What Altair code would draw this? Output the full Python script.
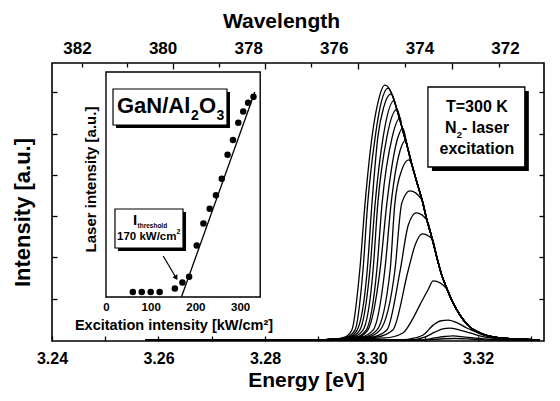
import altair as alt
import pandas as pd

FONT = "Liberation Sans"

# ---------------- photoluminescence spectra (energy in eV, intensity in a.u.) ----------------
# high-energy edge shared by the stronger spectra
edge_e = [3.3025, 3.3031, 3.3039, 3.3048, 3.3057, 3.3067, 3.3076, 3.3085, 3.3095, 3.3104,
          3.3114, 3.3123, 3.3132, 3.3142, 3.3153, 3.3166, 3.3185, 3.3204, 3.3232, 3.3270, 3.3316]
edge_i = [6.17, 6.13, 5.93, 5.57, 5.16, 4.70, 4.24, 3.83, 3.39, 2.91,
          2.45, 1.99, 1.57, 1.23, 0.90, 0.61, 0.31, 0.17, 0.07, 0.024, 0.0]

# flat low-energy tail common to every spectrum
tail_e = [3.2575, 3.2900, 3.2930]
tail_i = [0.0, 0.0, 0.02]

# low-energy side of each strong spectrum up to its maximum (strongest first)
rise_e = [
    [3.2950, 3.2963, 3.2978, 3.2988, 3.3001, 3.3012, 3.3025],
    [3.2954, 3.2969, 3.2984, 3.2993, 3.3007, 3.3018, 3.3031],
    [3.2958, 3.2973, 3.2992, 3.3001, 3.3012, 3.3023, 3.3037],
    [3.2961, 3.2978, 3.2997, 3.3007, 3.3022, 3.3042],
    [3.2965, 3.2984, 3.3003, 3.3012, 3.3029, 3.3048],
    [3.2971, 3.2990, 3.3010, 3.3020, 3.3039, 3.3054],
    [3.2975, 3.2993, 3.3016, 3.3029, 3.3050, 3.3059],
    [3.2980, 3.3003, 3.3025, 3.3037, 3.3054, 3.3065],
    [3.2986, 3.3010, 3.3035, 3.3044, 3.3057, 3.3070],
    [3.2992, 3.3016, 3.3044, 3.3057, 3.3072],
    [3.3001, 3.3029, 3.3054, 3.3069, 3.3084],
    [3.3010, 3.3040, 3.3069, 3.3082, 3.3095],
    [3.3025, 3.3059, 3.3076, 3.3091, 3.3106, 3.3116],
]
rise_i = [
    [0.07, 0.24, 1.69, 3.32, 4.92, 5.74, 6.17],
    [0.07, 0.24, 1.69, 3.32, 4.92, 5.74, 6.10],
    [0.07, 0.24, 1.69, 3.32, 4.92, 5.64, 5.96],
    [0.07, 0.24, 1.69, 3.32, 4.92, 5.79],
    [0.07, 0.24, 1.69, 3.32, 4.92, 5.59],
    [0.07, 0.24, 1.69, 3.32, 4.92, 5.38],
    [0.07, 0.24, 1.69, 3.32, 4.92, 5.13],
    [0.07, 0.24, 1.69, 3.32, 4.60, 4.84],
    [0.07, 0.24, 1.69, 3.32, 4.12, 4.36],
    [0.07, 0.24, 1.69, 3.32, 3.61],
    [0.07, 0.24, 1.69, 2.78, 3.08],
    [0.07, 0.24, 1.69, 2.30, 2.57],
    [0.05, 0.17, 0.48, 0.85, 1.21, 1.43],
]

# weak spectra below threshold
weak_e = [
    [3.3054, 3.3082, 3.3097, 3.3116, 3.3129, 3.3144, 3.3162, 3.3179, 3.3200, 3.3223, 3.3260],
    [3.3072, 3.3100, 3.3119, 3.3134, 3.3147, 3.3166, 3.3185, 3.3213, 3.3260],
    [3.3091, 3.3119, 3.3138, 3.3153, 3.3176, 3.3204, 3.3251],
    [3.3100, 3.3129, 3.3157, 3.3185, 3.3223],
]
weak_i = [
    [0.0, 0.05, 0.12, 0.36, 0.46, 0.48, 0.41, 0.29, 0.17, 0.07, 0.024],
    [0.0, 0.07, 0.19, 0.27, 0.29, 0.24, 0.17, 0.07, 0.012],
    [0.0, 0.05, 0.085, 0.10, 0.07, 0.036, 0.0],
    [0.0, 0.024, 0.036, 0.024, 0.0],
]

# ---------------- inset: laser intensity vs excitation ----------------
exc = [60, 80, 100, 120, 154, 171, 186, 203, 218, 232, 246, 259, 272, 284, 296, 307, 318, 330]
laser = [0, 0, 0, 0, 0.09, 0.24, 0.38, 1.16, 1.71, 2.08, 2.42, 2.83, 3.43, 3.80, 4.23, 4.51, 4.73, 4.88]
fit_exc = [169, 333]
fit_laser = [-0.12, 5.0]

# ---------------- axis ticks ----------------
energy_ticks = [round(3.24 + 0.01 * k, 2) for k in range(10)]
wavelength_labels = [382, 380, 378, 376, 374, 372]
wavelength_minor = [382, 381, 379, 377, 375, 373]
wavelength_major = [380, 378, 376, 374]
energy_at_minor = [1239.84 / wl for wl in wavelength_minor]
energy_at_major = [1239.84 / wl for wl in wavelength_major]
intensity_ticks = [1, 2, 3, 4, 5, 6]
inset_x_ticks = [0, 50, 100, 150, 200, 250, 300]
inset_y_ticks = [0, 1, 2, 3, 4, 5]

# ---------------- layout ----------------
W, H = 492, 278
E_DOM = [3.24, 3.3324]
I_DOM = [-0.024, 6.707]
WL_DOM = [371.089, 382.584]
XI_DOM = [0, 345]
YI_DOM = [-0.125, 5.5]
XI_RANGE = [54, 208.2]
YI_RANGE = [234, 9]


def lin(domain, rng=None, reverse=False):
    kw = dict(domain=domain, nice=False, zero=False)
    if rng is not None:
        kw["range"] = rng
    if reverse:
        kw["reverse"] = True
    return alt.Scale(**kw)


AX = dict(domain=False, grid=False, tickColor="black", tickWidth=1.3,
          labelFont=FONT, labelFontWeight="bold", labelColor="black",
          titleFont=FONT, titleFontWeight="bold", titleColor="black")

# assemble spectra table
rows = []
for k, (re_, ri_) in enumerate(zip(rise_e, rise_i)):
    es = tail_e + re_
    is_ = tail_i + ri_
    for e, i in zip(edge_e, edge_i):
        if e > re_[-1] and i < ri_[-1]:
            es.append(e)
            is_.append(i)
    rows += [{"curve": f"s{k}", "E": e, "I": i} for e, i in zip(es, is_)]
for k, (we, wi) in enumerate(zip(weak_e, weak_i)):
    es = [tail_e[0]] + we + [edge_e[-1]]
    is_ = [0.0] + wi + [0.0]
    rows += [{"curve": f"w{k}", "E": e, "I": i} for e, i in zip(es, is_)]
spec_df = pd.DataFrame(rows)

spectra = alt.Chart(spec_df).mark_line(
    color="black", strokeWidth=1.3, interpolate="monotone"
).encode(
    x=alt.X("E:Q", scale=lin(E_DOM), axis=alt.Axis(
        orient="bottom", values=energy_ticks, offset=-5, tickSize=5,
        labelExpr="round(datum.value*100) % 2 == 0 ? format(datum.value, '.2f') : ''",
        labelFlush=False, labelPadding=9, labelFontSize=16,
        title="Energy [eV]", titleFontSize=21, titleX=254, titleY=50,
        titleBaseline="alphabetic", **AX)),
    y=alt.Y("I:Q", scale=lin(I_DOM), axis=alt.Axis(
        orient="left", values=intensity_ticks, offset=-5, tickSize=5, labels=False,
        title="Intensity [a.u.]", titleFontSize=22, titleX=-28, titleY=149,
        titleBaseline="alphabetic", **AX)),
    detail="curve:N",
)

# mirrored ticks on top (wavelength positions) and right
mirror = alt.Chart(pd.DataFrame({"E": [3.30], "I": [0.0]})).mark_point(opacity=0).encode(
    x=alt.X("E:Q", scale=lin(E_DOM), axis=alt.Axis(
        orient="top", values=energy_at_minor, offset=-4, tickSize=4,
        labels=False, title=None, **AX)),
    y=alt.Y("I:Q", scale=lin(I_DOM), axis=alt.Axis(
        orient="right", values=intensity_ticks, offset=-5, tickSize=5,
        labels=False, title=None, **AX)),
)
mirror_major = alt.Chart(pd.DataFrame({"E": [3.30]})).mark_point(opacity=0).encode(
    x=alt.X("E:Q", scale=lin(E_DOM), axis=alt.Axis(
        orient="top", values=energy_at_major, offset=-6, tickSize=6,
        labels=False, title=None, **AX)),
)

# wavelength labels along the top
wl_axis = alt.Chart(pd.DataFrame({"wl": wavelength_labels})).mark_point(opacity=0).encode(
    x=alt.X("wl:Q", scale=lin(WL_DOM, reverse=True), axis=alt.Axis(
        orient="top", values=wavelength_labels, ticks=False, tickSize=0, format="d",
        labelFlush=False, labelPadding=6, labelFontSize=17,
        title="Wavelength", titleFontSize=21, titleX=229, titleY=-36,
        titleBaseline="alphabetic", **AX)),
)

# conditions box in the main panel
tbox = pd.DataFrame({"x1": [3.3106], "x2": [3.3288], "y1": [6.126], "y2": [4.189]})
tbox_shadow = alt.Chart(tbox).mark_rect(
    fill="black", xOffset=4, x2Offset=4, yOffset=4, y2Offset=4
).encode(
    x=alt.X("x1:Q", scale=lin(E_DOM), axis=None), x2="x2:Q",
    y=alt.Y("y1:Q", scale=lin(I_DOM), axis=None), y2="y2:Q",
)
tbox_rect = alt.Chart(tbox).mark_rect(fill="white", stroke="black", strokeWidth=1.3).encode(
    x=alt.X("x1:Q", scale=lin(E_DOM), axis=None), x2="x2:Q",
    y=alt.Y("y1:Q", scale=lin(I_DOM), axis=None), y2="y2:Q",
)
tcenter = pd.DataFrame({"t": ["T=300 K", "excitation"], "x": [3.3198, 3.3198],
                        "y": [5.521, 4.504], "fs": [16, 16]})
tleft = pd.DataFrame({"t": ["N", "2", "- laser"], "x": [3.3138, 3.3160, 3.3170],
                      "y": [5.012, 4.891, 5.012], "fs": [16, 9.5, 16]})


def text_layer(df, xdom, ydom, xr=None, yr=None, align="left"):
    return alt.Chart(df).mark_text(
        font=FONT, fontWeight="bold", color="black", align=align, baseline="alphabetic"
    ).encode(
        x=alt.X("x:Q", scale=lin(xdom, xr), axis=None),
        y=alt.Y("y:Q", scale=lin(ydom, yr), axis=None),
        text="t:N",
        size=alt.Size("fs:Q", scale=None),
    )


t_center = text_layer(tcenter, E_DOM, I_DOM, align="center")
t_left = text_layer(tleft, E_DOM, I_DOM)

# ---------------- inset ----------------
inset_frame = alt.Chart(pd.DataFrame({"x1": [XI_DOM[0]], "x2": [XI_DOM[1]],
                                      "y1": [YI_DOM[0]], "y2": [YI_DOM[1]]})).mark_rect(
    fill="white", stroke="black", strokeWidth=1.4
).encode(
    x=alt.X("x1:Q", scale=lin(XI_DOM, XI_RANGE), axis=alt.Axis(
        orient="bottom", values=inset_x_ticks, offset=-48, tickSize=4,
        labelExpr="datum.value % 100 == 0 ? datum.label : ''",
        labelFlush=False, labelPadding=4.5, labelFontSize=11.5,
        title="Excitation intensity [kW/cm²]", titleFontSize=14.5,
        titleX=121.5, titleY=36, titleBaseline="alphabetic", **AX)),
    x2="x2:Q",
    y=alt.Y("y1:Q", scale=lin(YI_DOM, YI_RANGE), axis=alt.Axis(
        orient="left", values=inset_y_ticks, offset=-58, tickSize=4, labels=False,
        title="Laser intensity [a.u.]", titleFontSize=15, titleX=-14.5, titleY=116,
        titleBaseline="alphabetic", **AX)),
    y2="y2:Q",
)

inset_fit = alt.Chart(pd.DataFrame({"x": fit_exc, "y": fit_laser})).mark_line(
    color="black", strokeWidth=1.3
).encode(
    x=alt.X("x:Q", scale=lin(XI_DOM, XI_RANGE), axis=alt.Axis(
        orient="top", values=inset_x_ticks, offset=-13, tickSize=4,
        labels=False, title=None, **AX)),
    y=alt.Y("y:Q", scale=lin(YI_DOM, YI_RANGE), axis=alt.Axis(
        orient="right", values=inset_y_ticks, offset=-287.8, tickSize=4,
        labels=False, title=None, **AX)),
)

inset_pts = alt.Chart(pd.DataFrame({"x": exc, "y": laser})).mark_circle(
    color="black", opacity=1, size=42
).encode(
    x=alt.X("x:Q", scale=lin(XI_DOM, XI_RANGE), axis=None),
    y=alt.Y("y:Q", scale=lin(YI_DOM, YI_RANGE), axis=None),
)

# arrow pointing at the threshold
arrow_line = alt.Chart(pd.DataFrame({"x": [128, 158], "y": [0.9, 0.33]})).mark_line(
    color="black", strokeWidth=1.2
).encode(
    x=alt.X("x:Q", scale=lin(XI_DOM, XI_RANGE), axis=None),
    y=alt.Y("y:Q", scale=lin(YI_DOM, YI_RANGE), axis=None),
)
arrow_head = alt.Chart(pd.DataFrame({"x": [156], "y": [0.37]})).mark_point(
    shape="triangle", filled=True, color="black", opacity=1, size=32, angle=150
).encode(
    x=alt.X("x:Q", scale=lin(XI_DOM, XI_RANGE), axis=None),
    y=alt.Y("y:Q", scale=lin(YI_DOM, YI_RANGE), axis=None),
)

ibox = pd.DataFrame({"x1": [15.7, 20.1], "x2": [270.7, 172.3],
                     "y1": [5.075, 2.075], "y2": [4.175, 1.1]})
ibox_shadow = alt.Chart(ibox).mark_rect(
    fill="black", xOffset=3, x2Offset=3, yOffset=3, y2Offset=3
).encode(
    x=alt.X("x1:Q", scale=lin(XI_DOM, XI_RANGE), axis=None), x2="x2:Q",
    y=alt.Y("y1:Q", scale=lin(YI_DOM, YI_RANGE), axis=None), y2="y2:Q",
)
ibox_rect = alt.Chart(ibox).mark_rect(fill="white", stroke="black", strokeWidth=1.2).encode(
    x=alt.X("x1:Q", scale=lin(XI_DOM, XI_RANGE), axis=None), x2="x2:Q",
    y=alt.Y("y1:Q", scale=lin(YI_DOM, YI_RANGE), axis=None), y2="y2:Q",
)
itext = pd.DataFrame({
    "t": ["GaN/Al", "2", "O", "3", "I", "threshold", "170 kW/cm", "2"],
    "x": [24.6, 190.2, 208.1, 247.2, 60.4, 70.5, 24.6, 158.0],
    "y": [4.475, 4.3, 4.475, 4.3, 1.675, 1.6, 1.3, 1.45],
    "fs": [22, 14, 22, 14, 15, 6.5, 11.5, 7],
})
i_text = text_layer(itext, XI_DOM, YI_DOM, XI_RANGE, YI_RANGE)

chart = alt.layer(
    spectra, mirror, mirror_major, wl_axis,
    tbox_shadow, tbox_rect, t_center, t_left,
    inset_frame, inset_fit, inset_pts, arrow_line, arrow_head,
    ibox_shadow, ibox_rect, i_text,
).resolve_scale(
    x="independent", y="independent"
).resolve_axis(
    x="independent", y="independent"
).properties(
    width=W, height=H,
    autosize=alt.AutoSizeParams(type="none"),
    padding={"left": 52, "top": 63, "right": 16, "bottom": 60},
    background="white",
).configure_view(
    stroke="black", strokeWidth=1.6
)

chart.save("out.html", embed_options={"renderer": "svg", "actions": False})
